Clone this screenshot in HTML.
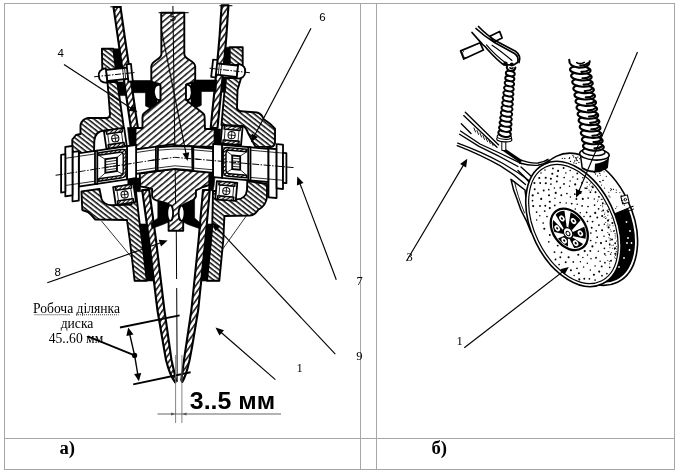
<!DOCTYPE html>
<html lang="uk">
<head>
<meta charset="utf-8">
<title>Дисковий сошник</title>
<style>
html,body{margin:0;padding:0;background:#fff;}
body{width:678px;height:473px;overflow:hidden;position:relative;font-family:"Liberation Serif",serif;}
svg{position:absolute;left:0;top:0;display:block;}
.h1{fill:url(#hA);stroke:#000;stroke-width:1.9;stroke-linejoin:round;}
.h2{fill:url(#hB);stroke:#000;stroke-width:1.9;stroke-linejoin:round;}
.h3{fill:url(#hC);stroke:#000;stroke-width:2.1;stroke-linejoin:round;}
.h4{fill:url(#hD);stroke:#000;stroke-width:1.4;stroke-linejoin:round;}
.w{fill:#fff;stroke:#000;stroke-width:1.8;stroke-linejoin:round;}
.k{fill:#000;stroke:#000;stroke-width:0.6;stroke-linejoin:round;}
.l{fill:none;stroke:#000;stroke-width:1;stroke-linecap:round;stroke-linejoin:round;}
.t{fill:none;stroke:#000;stroke-width:0.8;}
.lab{font-family:"Liberation Sans",sans-serif;font-size:11.5px;fill:#000;}
.labs{font-family:"Liberation Serif",serif;font-size:12.5px;fill:#000;}
</style>
</head>
<body>
<svg width="678" height="473" viewBox="0 0 678 473">
<defs>
<pattern id="hA" patternUnits="userSpaceOnUse" width="8" height="4.6" patternTransform="rotate(-40)">
<rect width="8" height="4.6" fill="#fff"/><rect x="0" y="1" width="8" height="1.4" fill="#000"/></pattern>
<pattern id="hB" patternUnits="userSpaceOnUse" width="8" height="3.8" patternTransform="rotate(38)">
<rect width="8" height="3.8" fill="#fff"/><rect x="0" y="1" width="8" height="1.45" fill="#000"/></pattern>
<pattern id="hC" patternUnits="userSpaceOnUse" width="8" height="4.3" patternTransform="rotate(-55)">
<rect width="8" height="4.3" fill="#fff"/><rect x="0" y="1" width="8" height="1.4" fill="#000"/></pattern>
<pattern id="hD" patternUnits="userSpaceOnUse" width="8" height="2.9" patternTransform="rotate(-40)">
<rect width="8" height="2.9" fill="#fff"/><rect x="0" y="0.7" width="8" height="1.15" fill="#000"/></pattern>
<filter id="soft" x="0" y="0" width="678" height="473" filterUnits="userSpaceOnUse"><feGaussianBlur stdDeviation="0.45"/></filter>
</defs>
<rect x="0" y="0" width="678" height="473" fill="#fff"/>

<g stroke="#a6a6a6" stroke-width="1" fill="none" shape-rendering="crispEdges">
<rect x="4.5" y="3.5" width="670" height="466"/>
<line x1="4.5" y1="438.5" x2="674.5" y2="438.5"/>
<line x1="360.5" y1="3.5" x2="360.5" y2="469.5"/>
<line x1="376.5" y1="3.5" x2="376.5" y2="469.5"/>
</g>
<g filter="url(#soft)">
<g id="left-section">
<path class="t" d="M101.5,221 L133,259 M246.4,215.8 L221,251.4" stroke-width="0.9"/>
<path class="h2" d="M107.5,82 L117.3,82 L124.2,130.5 L104.5,130.5 Q95,131 94.3,141 L94,152 L72.3,154 L72.3,139.5 L76,135 L80.5,134 L80.5,125 Q82,119 88,118 L107,118 Q110,117.5 110,114.5 Z" />
<path class="h2" d="M225.7,78 L241.1,78 L237.5,90 L237,108 Q237.5,111 241,111.2 L257,112.5 Q262,114 263.5,119 L270,123.8 L275,128.7 L275,143 Q274,146.8 271,147 L255.4,146.6 L248,133 Q246,127 243,126 L221.5,125 L222.6,112 Z" />
<path class="h2" d="M81.5,191.4 L99.5,189 L101.5,199 Q103.5,205 112,205.2 L131.5,204.6 L131.5,192 L136,192 L139.7,224 L142,240 L146.8,280.7 L134.6,280.7 L129.8,240 L127,220 L95.3,219.5 L91.3,215 L88,212 L82.3,210 Z" />
<path class="h2" d="M267,184 L267,197 Q266,206 258,210 Q255,215 250,215.5 L224.4,216 L223.3,240 L219.3,280.7 L207,280.7 L211.1,240 L212.3,224 L213,191 L216.3,191 L216.3,199.5 L236.6,199.5 Q246,199 247,190 L247.3,181 Z" />
<path class="h2" d="M101.9,48.8 L113.3,48.8 L116,70 L102.3,70 Z" />
<path class="k" d="M113.3,48.8 L120.3,48.8 L123.2,70 L116,70 Z" />
<path class="k" d="M117.3,82 L123.9,82 L125.8,95.6 L119.2,95.6 Z" />
<path class="h2" d="M229.7,47.2 L242.7,47.2 L242.7,65 L229.7,65 Z" />
<path class="k" d="M224.7,47.2 L229.7,47.2 L229.7,65 L222.8,65 Z" />
<path class="k" d="M221.3,77 L226.5,77 L225.5,92.3 L219.8,92.3 Z" />
<path class="k" d="M139.7,224 L147,224 L149.3,240 L153.9,280.7 L146.8,280.7 L142,240 Z" />
<path class="k" d="M206.4,224 L212.3,224 L211.1,240 L207,280.7 L200.4,280.7 L204.6,240 Z" />
<line x1="134.6" y1="280.7" x2="153.9" y2="280.7" class="l" stroke-width="1.3"/>
<line x1="200.4" y1="280.7" x2="219.3" y2="280.7" class="l" stroke-width="1.3"/>
<path class="h3" d="M113.5,7.0 L115.7,22.4 L117.9,37.8 L120.1,53.1 L122.3,68.5 L124.5,83.9 L126.7,99.2 L128.9,114.6 L131.2,130.0 L138.2,130.0 L135.9,114.6 L133.7,99.2 L131.5,83.9 L129.3,68.5 L127.1,53.1 L124.9,37.8 L122.7,22.4 L120.5,7.0 Z" />
<path class="h3" d="M221.7,5.2 L220.6,20.6 L219.6,35.9 L218.3,51.2 L216.8,66.6 L215.3,82.0 L213.8,97.3 L212.2,112.7 L210.7,128.0 L217.5,128.0 L219.0,112.7 L220.6,97.3 L222.1,82.0 L223.6,66.6 L225.1,51.2 L226.4,35.9 L227.4,20.6 L228.5,5.2 Z" />
<path class="h3" d="M142.2,190 L149.0,240 L157.4,310 L163.4,345 L166,360 Q170,376 175.3,382.5 L176,380 L171.5,360 L164.4,310 L156.0,240 L149.2,190 Z" />
<path class="h3" d="M209.8,190 L205.4,240 L198.2,310 L192.4,345 L189.6,360 Q186,376 182.3,382 L181.3,380 L184,360 L191.4,310 L198.6,240 L203.0,190 Z" />
<path class="l" d="M110.7,6.8 H121.4 M219.9,5.7 H232" stroke-width="1.2"/>
<path class="k" d="M130.5,80.5 L157,80.5 L157,104 L151,108.5 L145.5,106 L145.5,92.7 L132.5,92.7 Z" />
<path class="k" d="M217,80 L191,80 L191,104 L196,108 L201.3,105.3 L201.3,91.5 L216,91.5 Z" />
<path class="k" d="M157.8,199.5 L160,201.5 L168.6,204 L168.6,222 L163,224.5 L152,228.5 L150.8,223.5 L157.8,218 Z" />
<path class="k" d="M194.6,199.5 L190,201.5 L183.2,204.8 L183.2,222 L188,224.5 L200.5,229 L201.3,224 L194.6,218 Z" />
<path class="k" d="M127.5,127.5 L135.3,127.5 L135.5,149.5 L130,150 Z" />
<path class="k" d="M214.6,129 L220.6,129 L220.4,147 L214.6,147 Z" />
<path class="k" d="M127.8,179.6 L137.5,178 L140,178 L140.5,190.5 L143.5,191.5 L132,192 L131.5,186 L127.8,185 Z" />
<path class="k" d="M209.7,172 L215.5,172.5 L214,186 L213,191 L208.5,190 Z" />
<path class="h1" d="M161.2,12.7 L161.4,54 C161.4,60 151.5,60 151.3,66.5 L151.3,79.5 Q151.5,82 154,82.6 L158.5,83.6 Q160.4,84.2 160.4,86.5 L160.4,98.5 Q160.4,100.4 158.5,102 L144,113.3 Q142.5,114.5 142.5,117 L142.5,128 L135.5,128 L135.5,149.2 L174.7,146 L214.6,147 L214.6,129 L205,129 L204.6,117 Q204.6,114.5 203,113.3 L188,101.5 Q186,100 186,98 L186,86.5 Q186,84.2 188,83.6 L192.5,82.6 Q195.2,82 195.2,79.5 L195.2,66.5 C195,60 184.3,60 184.3,54 L184.3,12.7 Z" />
<line x1="159" y1="12.7" x2="188.3" y2="12.7" class="l" stroke-width="1.3"/>
<path class="h1" d="M139.8,173.5 L174.7,168.8 L209.5,172 L209.2,185 L203,187 L196,190.3 L195.9,196.5 Q194,200.5 190,201.5 L183.2,204.8 L183.2,230.8 L168.6,230.8 L168.6,204 L160,201.5 Q152.3,200 152.1,196 L152.1,189 L146,187.5 L140.1,186.4 Z" />
<path class="w" d="M160.4,84.6 Q156,84.2 154.6,88 Q153,93 155.6,98 Q157.5,100.6 160.4,100.2 Z" />
<path class="w" d="M186,84.6 Q190,84.2 191.2,88 Q192.6,93 190.6,98 Q189,100.6 186,100.2 Z" />
<ellipse class="w" cx="170.2" cy="213" rx="2.9" ry="7.8" stroke-width="1.3"/>
<ellipse class="w" cx="181.6" cy="213.3" rx="2.9" ry="7.6" stroke-width="1.3"/>
<g transform="translate(174.6,155.89999999999998) skewY(-8.33)">
<rect class="w" x="-38.5" y="-12.0" width="38.5" height="24.2" />
<path class="t" d="M0,-9 H-38.5 M0,9.2 H-38.5" stroke-width="0.8"/>
<rect class="w" x="-18.7" y="-12.0" width="4.0" height="24.2" />
<rect class="w" x="-47.6" y="-16.6" width="9.1" height="33.2" />
<rect class="w" x="-95.8" y="-16.6" width="48.2" height="33.2" />
<path class="t" d="M-47.6,-13.6 H-95.8 M-47.6,13.6 H-95.8" stroke-width="0.8"/>
<rect class="w" x="-79.6" y="-16.6" width="2.3" height="33.2" />
<path class="h4" d="M-75.8,-14.3 L-53.6,-14.3 Q-48.6,-14.3 -48.6,-9.3 L-48.6,9.3 Q-48.6,14.3 -53.6,14.3 L-75.8,14.3 L-75.8,11.7 L-54.6,11.7 Q-51.4,11.7 -51.4,8.5 L-51.4,-8.5 Q-51.4,-11.7 -54.6,-11.7 L-75.8,-11.7 Z"/>
<rect class="w" x="-69.3" y="-6.8" width="11.7" height="13.6" stroke-width="1.5"/>
<path class="t" d="M-57.6,-4 H-69.3 M-57.6,-1.3 H-69.3 M-57.6,1.4 H-69.3 M-57.6,4.1 H-69.3" stroke-width="1.1"/>
<path class="t" d="M-69.3,-6.8 L-75.8,-11.7 M-69.3,6.8 L-75.8,11.7 M-57.6,-6.8 L-52.2,-10.5 M-57.6,6.8 L-52.2,10.5" stroke-width="1.2"/>
<rect class="w" x="-102.1" y="-18.8" width="6.3" height="49.4" />
<rect class="w" x="-109.3" y="-25.0" width="7.2" height="49.4" />
<rect class="w" x="-113.5" y="-17.7" width="4.2" height="37.7" />
<path class="t" d="M-95.8,-13.6 H-109.3 M-95.8,13.6 H-109.3" stroke-width="0.8"/>
<path d="M-20,1.0 L-119,2.0" stroke="#000" stroke-width="0.95" stroke-dasharray="7 1.5 1.5 1.5" fill="none"/>
</g>
<g transform="translate(174.6,157.2) skewY(5.0)">
<rect class="w" x="0.0" y="-12.0" width="38.5" height="24.2" />
<path class="t" d="M0,-9 H38.5 M0,9.2 H38.5" stroke-width="0.8"/>
<rect class="w" x="14.7" y="-12.0" width="4.0" height="24.2" />
<rect class="w" x="38.5" y="-16.6" width="9.1" height="33.2" />
<rect class="w" x="47.6" y="-16.6" width="46.3" height="33.2" />
<path class="t" d="M47.6,-13.6 H93.9 M47.6,13.6 H93.9" stroke-width="0.8"/>
<rect class="w" x="73.6" y="-16.6" width="2.3" height="33.2" />
<path class="h4" d="M72.1,-14.3 L53.6,-14.3 Q48.6,-14.3 48.6,-9.3 L48.6,9.3 Q48.6,14.3 53.6,14.3 L72.1,14.3 L72.1,11.7 L54.6,11.7 Q51.4,11.7 51.4,8.5 L51.4,-8.5 Q51.4,-11.7 54.6,-11.7 L72.1,-11.7 Z"/>
<rect class="w" x="57.6" y="-6.8" width="8.0" height="13.6" stroke-width="1.5"/>
<path class="t" d="M57.6,-4 H65.6 M57.6,-1.3 H65.6 M57.6,1.4 H65.6 M57.6,4.1 H65.6" stroke-width="1.1"/>
<path class="t" d="M65.6,-6.8 L72.1,-11.7 M65.6,6.8 L72.1,11.7 M57.6,-6.8 L52.2,-10.5 M57.6,6.8 L52.2,10.5" stroke-width="1.2"/>
<rect class="w" x="93.9" y="-17.0" width="8.1" height="48.9" />
<rect class="w" x="102.0" y="-22.0" width="6.4" height="44.3" />
<rect class="w" x="108.4" y="-13.9" width="3.4" height="30.1" />
<path class="t" d="M93.9,-13.6 H108.4 M93.9,13.6 H108.4" stroke-width="0.8"/>
<path d="M20,0.0 L119,0.0" stroke="#000" stroke-width="0.95" stroke-dasharray="7 1.5 1.5 1.5" fill="none"/>
</g>
<path class="w" d="M158,147.3 L174.7,146 L192,146.4 L192.5,170.3 L174.9,168.8 L157.6,171 Z" />
<path class="t" d="M158,150.2 L174.7,149 L192,149.4 M157.6,168 L174.9,165.8 L192.5,167.3" stroke-width="0.8"/>
<path d="M150,160.6 L174.7,157.3 L200,159.5" stroke="#000" stroke-width="0.95" stroke-dasharray="7 1.5 1.5 1.5" fill="none"/>
<g transform="translate(115.3,138.3) rotate(-8.3)">
<rect class="w" x="-10.25" y="-9.0" width="20.5" height="18.0" stroke-width="1.3"/>
<rect class="h4" x="-8.05" y="-9.0" width="16.1" height="3.6"/>
<rect class="h4" x="-8.05" y="5.4" width="16.1" height="3.6"/>
<rect class="t" x="-6.95" y="-5.4" width="13.9" height="10.8" stroke-width="0.9"/>
<circle cx="0" cy="0" r="3.6" fill="#fff" stroke="#000" stroke-width="1"/>
<path class="t" d="M-3.6,0 H3.6 M0,-3.6 V3.6" stroke-width="0.7"/>
</g>
<g transform="translate(124.6,194.5) rotate(-8.3)">
<rect class="w" x="-10.25" y="-9.0" width="20.5" height="18.0" stroke-width="1.3"/>
<rect class="h4" x="-8.05" y="-9.0" width="16.1" height="3.6"/>
<rect class="h4" x="-8.05" y="5.4" width="16.1" height="3.6"/>
<rect class="t" x="-6.95" y="-5.4" width="13.9" height="10.8" stroke-width="0.9"/>
<circle cx="0" cy="0" r="3.6" fill="#fff" stroke="#000" stroke-width="1"/>
<path class="t" d="M-3.6,0 H3.6 M0,-3.6 V3.6" stroke-width="0.7"/>
</g>
<g transform="translate(231.6,135.2) rotate(5.0)">
<rect class="w" x="-10.25" y="-9.0" width="20.5" height="18.0" stroke-width="1.3"/>
<rect class="h4" x="-8.05" y="-9.0" width="16.1" height="3.6"/>
<rect class="h4" x="-8.05" y="5.4" width="16.1" height="3.6"/>
<rect class="t" x="-6.95" y="-5.4" width="13.9" height="10.8" stroke-width="0.9"/>
<circle cx="0" cy="0" r="3.6" fill="#fff" stroke="#000" stroke-width="1"/>
<path class="t" d="M-3.6,0 H3.6 M0,-3.6 V3.6" stroke-width="0.7"/>
</g>
<g transform="translate(226.3,191.0) rotate(5.0)">
<rect class="w" x="-10.25" y="-9.0" width="20.5" height="18.0" stroke-width="1.3"/>
<rect class="h4" x="-8.05" y="-9.0" width="16.1" height="3.6"/>
<rect class="h4" x="-8.05" y="5.4" width="16.1" height="3.6"/>
<rect class="t" x="-6.95" y="-5.4" width="13.9" height="10.8" stroke-width="0.9"/>
<circle cx="0" cy="0" r="3.6" fill="#fff" stroke="#000" stroke-width="1"/>
<path class="t" d="M-3.6,0 H3.6 M0,-3.6 V3.6" stroke-width="0.7"/>
</g>
<g transform="translate(115,74.6) rotate(-6) scale(1,1)">
<rect class="w" x="-8.5" y="-5.6" width="23" height="11.2"/>
<path class="w" d="M-8.5,-7.4 Q-16.5,-6.5 -16.3,0 Q-16.5,6.5 -8.5,7.4 Z"/>
<rect class="w" x="12.6" y="-9" width="4.4" height="17.5"/>
<path class="t" d="M8.2,-5.6 V5.6 M10.2,-5.6 V5.6" stroke-width="0.9"/>
<path d="M-21,0 H21" stroke="#000" stroke-width="0.95" stroke-dasharray="6 1.5 1.5 1.5" fill="none"/>
</g>
<g transform="translate(229,70.4) rotate(6.4) scale(-1,1)">
<rect class="w" x="-8.5" y="-5.6" width="23" height="11.2"/>
<path class="w" d="M-8.5,-7.4 Q-16.5,-6.5 -16.3,0 Q-16.5,6.5 -8.5,7.4 Z"/>
<rect class="w" x="12.6" y="-9" width="4.4" height="17.5"/>
<path class="t" d="M8.2,-5.6 V5.6 M10.2,-5.6 V5.6" stroke-width="0.9"/>
<path d="M-21,0 H21" stroke="#000" stroke-width="0.95" stroke-dasharray="6 1.5 1.5 1.5" fill="none"/>
</g>
<path d="M172.9,6 L174.8,146 M175.2,169 L175.6,204 M176.3,231 L176.6,279 M176.7,288 L177.2,382" stroke="#000" stroke-width="1.0" fill="none"/>
</g>
<g id="right-view" stroke-linecap="round" stroke-linejoin="round">
<g fill="none" stroke="#000" stroke-width="1.35">
<path d="M465.3,112.3 L498.7,144.9 M463.7,115.6 L497,147.3"/>
<path d="M461.3,123.7 L471,133.5"/>
<path d="M460.5,131 L480,144 Q500,153 521.5,163.6"/>
<path d="M459.6,134.3 L479,146.4 Q499,155.8 518,166.5"/>
<path d="M457.7,143.2 Q482,152 503,163.5 Q518,172 529.6,181"/>
<path d="M457.2,145.6 Q480,154.4 500,165.7 Q514,174 525.5,184.5"/>
<path d="M521,167 Q528,173 534,179 M518,170.5 Q524,176 529,182"/>
<path d="M474,128 l1.5,4 M477,130.5 l1.5,4 M480,133 l1.5,4 M483,135.5 l1.5,4 M486,138 l1.5,3.6 M489,140.5 l1.3,3 M492,143 l1,2.5" stroke-width="0.9"/>
</g>
<path d="M501.5,150 L519.5,162.5 L523,160.8 L505,148.5 Z" fill="#000"/>
<path d="M519.5,163 Q530,166 538,165.2 Q545,164 549.5,160.3 M521,160.2 Q531,163.6 538,163 Q544,162 548,159.3" fill="none" stroke="#000" stroke-width="1.4"/>
<path d="M511,179.3 Q513,190 517,199 Q520,210 526.5,221 L531,232 L527,206 L525,190 Z" fill="#fff" stroke="#000" stroke-width="1.5"/>
<path d="M514.5,181.5 Q517.5,196 524.5,213" fill="none" stroke="#000" stroke-width="0.9"/>
<defs><clipPath id="rimclip"><polygon points="613,214.5 633,206.2 660,206 660,300 575,300 575,283 596,272"/></clipPath>
<clipPath id="bandclip"><polygon points="540,140 660,140 660,209 633,206.2 613,214.5 600,200 560,165 540,170"/></clipPath></defs>
<ellipse cx="586.8" cy="219.3" rx="45.0" ry="70.0" transform="rotate(-26.0 586.8 219.3)" class="" fill="#fff" stroke="#000" stroke-width="1.6"/>
<g clip-path="url(#rimclip)">
<ellipse cx="586.8" cy="219.3" rx="42.4" ry="67.4" transform="rotate(-26.0 586.8 219.3)" class="" fill="#000"/>
</g>
<circle cx="626.5" cy="222" r="0.9" fill="#fff"/>
<circle cx="630" cy="231" r="0.9" fill="#fff"/>
<circle cx="627" cy="243" r="0.9" fill="#fff"/>
<circle cx="629.5" cy="250" r="0.9" fill="#fff"/>
<circle cx="624" cy="258" r="0.9" fill="#fff"/>
<circle cx="619" cy="267" r="0.9" fill="#fff"/>
<circle cx="628" cy="238" r="0.9" fill="#fff"/>
<circle cx="631.5" cy="243" r="0.9" fill="#fff"/>
<path d="M613,214.5 L633,206.2" stroke="#000" stroke-width="1.2" fill="none"/>
<path d="M611.5,218 L633.5,209" stroke="#000" stroke-width="1" fill="none"/>
<rect x="621.6" y="195.6" width="6.6" height="7.6" fill="#fff" stroke="#000" stroke-width="1.1" transform="rotate(-14 625 199)"/>
<circle cx="625.3" cy="199.6" r="1.3" fill="none" stroke="#000" stroke-width="0.8"/>
<g fill="#000" clip-path="url(#bandclip)">
<circle cx="575.8" cy="157.7" r="0.65"/>
<circle cx="595.9" cy="171.4" r="0.65"/>
<circle cx="599.8" cy="173.4" r="0.65"/>
<circle cx="588.1" cy="167.2" r="0.65"/>
<circle cx="599.6" cy="181.6" r="0.65"/>
<circle cx="601.5" cy="185.1" r="0.55"/>
<circle cx="611.6" cy="189.4" r="0.55"/>
<circle cx="564.8" cy="158.4" r="0.65"/>
<circle cx="579.8" cy="158.7" r="0.65"/>
<circle cx="621.6" cy="200.4" r="0.55"/>
<circle cx="586.8" cy="159.7" r="0.65"/>
<circle cx="603.2" cy="180.4" r="0.55"/>
<circle cx="577.2" cy="160.5" r="0.65"/>
<circle cx="569.6" cy="157.6" r="0.65"/>
<circle cx="569.3" cy="158.4" r="0.65"/>
<circle cx="573.9" cy="162.9" r="0.65"/>
<circle cx="600.6" cy="181.9" r="0.55"/>
<circle cx="616.3" cy="190.1" r="0.55"/>
<circle cx="624.4" cy="205.1" r="0.55"/>
<circle cx="624.3" cy="199.5" r="0.55"/>
<circle cx="604.6" cy="188.1" r="0.55"/>
<circle cx="610.0" cy="197.1" r="0.55"/>
<circle cx="608.8" cy="192.3" r="0.55"/>
<circle cx="570.5" cy="161.4" r="0.65"/>
<circle cx="573.7" cy="157.0" r="0.65"/>
<circle cx="582.5" cy="158.7" r="0.65"/>
<circle cx="594.8" cy="172.1" r="0.65"/>
<circle cx="623.4" cy="202.7" r="0.55"/>
<circle cx="613.6" cy="189.4" r="0.55"/>
<circle cx="581.9" cy="162.3" r="0.65"/>
<circle cx="584.9" cy="164.5" r="0.65"/>
<circle cx="582.4" cy="161.6" r="0.65"/>
<circle cx="576.3" cy="159.9" r="0.65"/>
<circle cx="576.5" cy="158.8" r="0.65"/>
<circle cx="616.8" cy="206.7" r="0.55"/>
<circle cx="581.7" cy="164.1" r="0.65"/>
<circle cx="621.2" cy="195.3" r="0.55"/>
<circle cx="597.5" cy="168.8" r="0.65"/>
<circle cx="587.5" cy="163.0" r="0.65"/>
<circle cx="609.0" cy="195.9" r="0.55"/>
<circle cx="598.9" cy="171.9" r="0.65"/>
<circle cx="599.9" cy="168.9" r="0.65"/>
<circle cx="572.9" cy="155.6" r="0.65"/>
<circle cx="587.7" cy="164.6" r="0.65"/>
<circle cx="574.7" cy="161.0" r="0.65"/>
<circle cx="583.9" cy="166.1" r="0.65"/>
<circle cx="604.1" cy="171.7" r="0.55"/>
<circle cx="594.2" cy="172.5" r="0.65"/>
<circle cx="600.3" cy="175.2" r="0.55"/>
<circle cx="591.5" cy="163.1" r="0.65"/>
<circle cx="562.3" cy="158.3" r="0.65"/>
<circle cx="599.8" cy="171.1" r="0.65"/>
<circle cx="578.9" cy="162.4" r="0.65"/>
<circle cx="606.3" cy="176.4" r="0.55"/>
<circle cx="595.5" cy="174.0" r="0.65"/>
<circle cx="602.8" cy="180.4" r="0.55"/>
<circle cx="588.0" cy="162.5" r="0.65"/>
<circle cx="616.2" cy="192.5" r="0.55"/>
<circle cx="597.6" cy="175.9" r="0.65"/>
<circle cx="615.7" cy="208.5" r="0.55"/>
<circle cx="576.2" cy="163.3" r="0.65"/>
<circle cx="610.8" cy="190.6" r="0.55"/>
<circle cx="599.2" cy="167.7" r="0.65"/>
<circle cx="577.8" cy="157.1" r="0.65"/>
<circle cx="610.8" cy="188.6" r="0.55"/>
<circle cx="601.1" cy="171.3" r="0.55"/>
<circle cx="622.7" cy="200.5" r="0.55"/>
<circle cx="592.0" cy="170.2" r="0.65"/>
<circle cx="619.9" cy="192.6" r="0.55"/>
<circle cx="576.0" cy="157.9" r="0.65"/>
</g>
<ellipse cx="573.4" cy="224.0" rx="41.9" ry="66.5" transform="rotate(-26.0 573.4 224.0)" class="" fill="#fff" stroke="#000" stroke-width="1.6"/>
<ellipse cx="573.4" cy="224.0" rx="39.0" ry="63.4" transform="rotate(-26.0 573.4 224.0)" class="" fill="none" stroke="#000" stroke-width="1.2"/>
<g fill="#000">
<circle cx="609.7" cy="244.7" r="0.85"/>
<circle cx="548.8" cy="189.6" r="0.85"/>
<circle cx="574.8" cy="194.2" r="0.85"/>
<circle cx="597.2" cy="237.2" r="0.85"/>
<circle cx="604.7" cy="253.9" r="0.85"/>
<circle cx="545.8" cy="183.2" r="1.05"/>
<circle cx="586.6" cy="212.4" r="0.85"/>
<circle cx="569.5" cy="186.2" r="0.75"/>
<circle cx="594.6" cy="205.1" r="0.85"/>
<circle cx="570.1" cy="181.1" r="0.75"/>
<circle cx="606.2" cy="241.2" r="0.85"/>
<circle cx="601.0" cy="243.1" r="1.05"/>
<circle cx="549.8" cy="208.1" r="1.05"/>
<circle cx="592.6" cy="221.6" r="0.95"/>
<circle cx="577.2" cy="204.2" r="0.75"/>
<circle cx="588.2" cy="198.0" r="0.85"/>
<circle cx="613.8" cy="231.0" r="0.85"/>
<circle cx="608.0" cy="220.6" r="1.05"/>
<circle cx="608.1" cy="211.7" r="0.95"/>
<circle cx="543.2" cy="223.0" r="0.85"/>
<circle cx="555.0" cy="198.3" r="0.75"/>
<circle cx="592.8" cy="187.2" r="1.05"/>
<circle cx="587.0" cy="182.3" r="0.75"/>
<circle cx="565.8" cy="172.9" r="0.75"/>
<circle cx="580.5" cy="193.0" r="1.05"/>
<circle cx="602.1" cy="230.2" r="1.05"/>
<circle cx="595.1" cy="265.9" r="0.75"/>
<circle cx="606.9" cy="273.6" r="0.85"/>
<circle cx="558.1" cy="170.9" r="1.05"/>
<circle cx="600.1" cy="261.3" r="0.75"/>
<circle cx="582.1" cy="205.9" r="0.85"/>
<circle cx="570.2" cy="170.5" r="0.75"/>
<circle cx="595.8" cy="242.8" r="0.75"/>
<circle cx="532.5" cy="200.7" r="0.85"/>
<circle cx="555.7" cy="192.9" r="1.05"/>
<circle cx="560.1" cy="202.5" r="0.85"/>
<circle cx="596.2" cy="230.8" r="0.85"/>
<circle cx="556.8" cy="181.5" r="0.95"/>
<circle cx="566.9" cy="193.5" r="0.85"/>
<circle cx="608.6" cy="227.4" r="1.05"/>
<circle cx="576.3" cy="189.5" r="0.75"/>
<circle cx="552.3" cy="173.8" r="1.05"/>
<circle cx="541.0" cy="173.1" r="0.75"/>
<circle cx="582.9" cy="257.5" r="0.75"/>
<circle cx="564.2" cy="177.5" r="0.85"/>
<circle cx="602.8" cy="203.3" r="0.95"/>
<circle cx="612.0" cy="239.5" r="0.95"/>
<circle cx="587.3" cy="263.2" r="0.75"/>
<circle cx="577.5" cy="179.0" r="0.85"/>
<circle cx="599.0" cy="196.8" r="0.85"/>
<circle cx="575.3" cy="209.0" r="0.75"/>
<circle cx="595.2" cy="212.9" r="1.05"/>
<circle cx="541.2" cy="198.9" r="1.05"/>
<circle cx="609.7" cy="267.3" r="0.85"/>
<circle cx="589.4" cy="278.8" r="0.85"/>
<circle cx="615.0" cy="248.3" r="1.05"/>
<circle cx="592.4" cy="246.4" r="1.05"/>
<circle cx="540.0" cy="205.9" r="0.95"/>
<circle cx="560.3" cy="187.7" r="0.85"/>
<circle cx="610.6" cy="254.2" r="0.75"/>
<circle cx="552.9" cy="168.4" r="0.85"/>
<circle cx="593.9" cy="274.8" r="1.05"/>
<circle cx="598.3" cy="251.2" r="0.75"/>
<circle cx="586.0" cy="188.3" r="0.95"/>
<circle cx="601.7" cy="266.4" r="0.95"/>
<circle cx="545.7" cy="177.7" r="1.05"/>
<circle cx="611.0" cy="260.7" r="0.95"/>
<circle cx="547.0" cy="216.5" r="0.85"/>
<circle cx="609.2" cy="234.4" r="0.75"/>
<circle cx="582.8" cy="177.8" r="0.75"/>
<circle cx="588.0" cy="206.5" r="0.85"/>
<circle cx="598.9" cy="225.1" r="0.95"/>
<circle cx="582.8" cy="198.9" r="1.05"/>
<circle cx="544.7" cy="211.1" r="0.95"/>
<circle cx="596.0" cy="257.7" r="0.95"/>
<circle cx="590.3" cy="270.1" r="0.75"/>
<circle cx="604.4" cy="248.3" r="0.85"/>
<circle cx="549.8" cy="201.7" r="1.05"/>
<circle cx="587.5" cy="255.1" r="0.75"/>
<circle cx="545.0" cy="169.9" r="0.75"/>
<circle cx="536.6" cy="212.1" r="0.85"/>
<circle cx="590.3" cy="250.9" r="0.95"/>
<circle cx="604.0" cy="236.2" r="0.75"/>
<circle cx="590.4" cy="192.2" r="0.85"/>
<circle cx="554.8" cy="205.4" r="0.85"/>
<circle cx="602.0" cy="275.7" r="0.85"/>
<circle cx="595.5" cy="192.3" r="0.95"/>
<circle cx="559.1" cy="264.5" r="0.85"/>
<circle cx="577.3" cy="173.4" r="0.95"/>
<circle cx="566.2" cy="203.1" r="0.75"/>
<circle cx="594.3" cy="198.9" r="0.75"/>
<circle cx="597.3" cy="217.5" r="0.95"/>
<circle cx="557.7" cy="245.6" r="0.95"/>
<circle cx="603.2" cy="210.4" r="0.95"/>
<circle cx="604.9" cy="262.7" r="0.85"/>
<circle cx="602.2" cy="216.0" r="1.05"/>
<circle cx="591.7" cy="227.8" r="0.95"/>
<circle cx="615.6" cy="253.9" r="0.95"/>
<circle cx="580.4" cy="261.8" r="0.75"/>
<circle cx="549.0" cy="195.3" r="1.05"/>
<circle cx="554.4" cy="188.1" r="0.75"/>
<circle cx="540.2" cy="183.0" r="0.95"/>
<circle cx="578.9" cy="273.2" r="1.05"/>
<circle cx="532.7" cy="195.4" r="1.05"/>
<circle cx="578.3" cy="254.8" r="1.05"/>
<circle cx="582.1" cy="182.8" r="0.95"/>
<circle cx="580.3" cy="212.8" r="0.75"/>
<circle cx="575.2" cy="184.4" r="1.05"/>
<circle cx="590.8" cy="233.0" r="0.85"/>
<circle cx="534.4" cy="183.0" r="1.05"/>
<circle cx="577.0" cy="268.3" r="0.85"/>
<circle cx="534.7" cy="189.3" r="0.95"/>
<circle cx="543.7" cy="190.5" r="0.95"/>
<circle cx="573.3" cy="261.9" r="0.85"/>
<circle cx="583.6" cy="267.0" r="0.75"/>
<circle cx="544.3" cy="228.7" r="1.05"/>
<circle cx="590.3" cy="216.4" r="0.95"/>
<circle cx="563.6" cy="168.0" r="0.95"/>
<circle cx="557.3" cy="176.3" r="1.05"/>
<circle cx="598.6" cy="208.8" r="0.85"/>
<circle cx="572.9" cy="177.0" r="0.75"/>
<circle cx="570.4" cy="197.1" r="0.75"/>
<circle cx="579.3" cy="279.4" r="1.05"/>
<circle cx="545.3" cy="205.8" r="0.95"/>
<circle cx="538.0" cy="193.2" r="0.85"/>
<circle cx="576.4" cy="199.0" r="0.95"/>
<circle cx="539.8" cy="215.8" r="0.75"/>
<circle cx="590.7" cy="240.5" r="0.85"/>
<circle cx="561.3" cy="195.2" r="0.95"/>
<circle cx="561.5" cy="252.4" r="0.85"/>
<circle cx="571.7" cy="203.6" r="0.95"/>
<circle cx="584.0" cy="216.5" r="0.75"/>
<circle cx="533.2" cy="206.1" r="1.05"/>
<circle cx="604.3" cy="224.3" r="0.75"/>
<circle cx="550.9" cy="184.1" r="0.85"/>
<circle cx="539.3" cy="178.0" r="1.05"/>
<circle cx="587.5" cy="221.3" r="0.85"/>
<circle cx="595.1" cy="280.0" r="0.85"/>
<circle cx="615.2" cy="243.3" r="0.95"/>
<circle cx="574.1" cy="275.5" r="0.75"/>
<circle cx="536.7" cy="219.9" r="0.75"/>
<circle cx="564.5" cy="269.3" r="0.85"/>
<circle cx="591.0" cy="258.8" r="0.75"/>
<circle cx="560.3" cy="257.2" r="0.95"/>
<circle cx="584.3" cy="278.7" r="0.95"/>
<circle cx="564.0" cy="183.9" r="0.95"/>
<circle cx="599.2" cy="271.6" r="1.05"/>
<circle cx="555.5" cy="259.5" r="0.95"/>
<circle cx="584.7" cy="251.1" r="1.05"/>
<circle cx="568.6" cy="257.3" r="1.05"/>
<circle cx="548.8" cy="241.8" r="0.85"/>
<circle cx="565.7" cy="262.3" r="0.95"/>
<circle cx="549.8" cy="235.0" r="0.95"/>
<circle cx="554.5" cy="252.1" r="0.95"/>
<circle cx="550.9" cy="178.7" r="1.05"/>
<circle cx="612.4" cy="223.0" r="1.05"/>
<circle cx="570.9" cy="270.2" r="1.05"/>
<circle cx="610.4" cy="229.7" r="0.5"/>
<circle cx="607.8" cy="232.4" r="0.5"/>
<circle cx="604.6" cy="214.6" r="0.5"/>
<circle cx="605.8" cy="255.4" r="0.5"/>
<circle cx="609.6" cy="263.8" r="0.5"/>
<circle cx="587.3" cy="186.7" r="0.5"/>
<circle cx="615.1" cy="235.1" r="0.5"/>
<circle cx="609.1" cy="225.1" r="0.5"/>
<circle cx="589.3" cy="184.8" r="0.5"/>
<circle cx="608.9" cy="219.4" r="0.5"/>
<circle cx="607.9" cy="215.2" r="0.5"/>
<circle cx="612.7" cy="248.3" r="0.5"/>
<circle cx="597.5" cy="201.5" r="0.5"/>
<circle cx="587.1" cy="188.5" r="0.5"/>
<circle cx="584.5" cy="188.0" r="0.5"/>
<circle cx="611.4" cy="252.4" r="0.5"/>
<circle cx="615.6" cy="255.4" r="0.5"/>
<circle cx="613.0" cy="225.8" r="0.5"/>
<circle cx="607.8" cy="260.4" r="0.5"/>
<circle cx="605.1" cy="204.0" r="0.5"/>
<circle cx="601.8" cy="211.3" r="0.5"/>
<circle cx="615.2" cy="238.0" r="0.5"/>
<circle cx="605.1" cy="216.4" r="0.5"/>
<circle cx="602.7" cy="204.9" r="0.5"/>
<circle cx="614.6" cy="249.2" r="0.5"/>
<circle cx="608.9" cy="237.7" r="0.5"/>
<circle cx="591.6" cy="189.9" r="0.5"/>
<circle cx="607.8" cy="223.9" r="0.5"/>
<circle cx="598.8" cy="196.7" r="0.5"/>
<circle cx="607.0" cy="225.7" r="0.5"/>
<circle cx="610.1" cy="240.3" r="0.5"/>
<circle cx="615.0" cy="233.4" r="0.5"/>
<circle cx="615.9" cy="236.2" r="0.5"/>
<circle cx="608.9" cy="251.6" r="0.5"/>
<circle cx="609.3" cy="261.6" r="0.5"/>
<circle cx="609.5" cy="235.4" r="0.5"/>
<circle cx="614.6" cy="253.8" r="0.5"/>
<circle cx="610.2" cy="238.5" r="0.5"/>
<circle cx="608.9" cy="234.1" r="0.5"/>
<circle cx="611.7" cy="218.1" r="0.5"/>
<circle cx="615.3" cy="258.2" r="0.5"/>
<circle cx="609.8" cy="243.2" r="0.5"/>
<circle cx="616.0" cy="252.0" r="0.5"/>
<circle cx="604.0" cy="217.4" r="0.5"/>
<circle cx="601.3" cy="199.3" r="0.5"/>
<circle cx="589.0" cy="190.1" r="0.5"/>
<circle cx="610.1" cy="239.8" r="0.5"/>
<circle cx="608.1" cy="209.6" r="0.5"/>
<circle cx="590.4" cy="182.9" r="0.5"/>
<circle cx="605.7" cy="222.5" r="0.5"/>
<circle cx="605.4" cy="218.6" r="0.5"/>
<circle cx="598.0" cy="200.0" r="0.5"/>
<circle cx="611.2" cy="231.2" r="0.5"/>
<circle cx="608.0" cy="251.6" r="0.5"/>
<circle cx="616.4" cy="246.6" r="0.5"/>
<circle cx="607.2" cy="210.8" r="0.5"/>
<circle cx="616.7" cy="240.9" r="0.5"/>
<circle cx="592.7" cy="186.1" r="0.5"/>
<circle cx="609.9" cy="247.7" r="0.5"/>
<circle cx="616.6" cy="249.1" r="0.5"/>
<circle cx="607.1" cy="210.6" r="0.5"/>
<circle cx="602.7" cy="206.8" r="0.5"/>
<circle cx="610.0" cy="225.1" r="0.5"/>
<circle cx="614.6" cy="256.9" r="0.5"/>
<circle cx="616.4" cy="251.6" r="0.5"/>
<circle cx="600.7" cy="205.6" r="0.5"/>
<circle cx="591.3" cy="186.3" r="0.5"/>
<circle cx="602.7" cy="199.2" r="0.5"/>
<circle cx="606.2" cy="218.0" r="0.5"/>
<circle cx="595.5" cy="191.7" r="0.5"/>
<circle cx="613.4" cy="245.0" r="0.5"/>
<circle cx="601.3" cy="199.2" r="0.5"/>
<circle cx="604.9" cy="212.9" r="0.5"/>
<circle cx="612.0" cy="245.2" r="0.5"/>
<circle cx="614.4" cy="230.5" r="0.5"/>
</g>
<ellipse cx="569.3" cy="229.4" rx="16.2" ry="22.6" transform="rotate(-35.0 569.3 229.4)" class="" fill="#fff" stroke="#000" stroke-width="2.3"/>
<g transform="translate(569.3,229.4) rotate(-35.0) scale(0.717,1)">
<path d="M2.1,4.1 L19.1,6.5 A20.2,20.2 0 0 1 10.9,17.0 L-0.8,7.9 Z" fill="#000"/>
<circle cx="9.5" cy="9.6" r="3.3" fill="#fff"/>
<circle cx="9.5" cy="9.6" r="1.35" fill="#000"/>
<path d="M-2.7,8.6 L4.0,19.8 A20.2,20.2 0 0 1 -9.3,18.0 L-7.4,8.0 Z" fill="#000"/>
<circle cx="-3.7" cy="14.9" r="3.3" fill="#fff"/>
<circle cx="-3.7" cy="14.9" r="1.35" fill="#000"/>
<path d="M-9.0,6.7 L-15.2,13.3 A20.2,20.2 0 0 1 -20.2,1.0 L-10.8,2.3 Z" fill="#000"/>
<circle cx="-14.8" cy="6.2" r="3.3" fill="#fff"/>
<circle cx="-14.8" cy="6.2" r="1.35" fill="#000"/>
<path d="M-10.5,0.3 L-19.1,-6.5 A20.2,20.2 0 0 1 -10.9,-17.0 L-7.6,-3.5 Z" fill="#000"/>
<circle cx="-12.9" cy="-7.9" r="3.3" fill="#fff"/>
<circle cx="-12.9" cy="-7.9" r="1.35" fill="#000"/>
<path d="M-5.7,-4.2 L-4.0,-19.8 A20.2,20.2 0 0 1 9.3,-18.0 L-1.0,-3.6 Z" fill="#000"/>
<circle cx="0.3" cy="-13.2" r="3.3" fill="#fff"/>
<circle cx="0.3" cy="-13.2" r="1.35" fill="#000"/>
<path d="M0.6,-2.3 L15.2,-13.3 A20.2,20.2 0 0 1 20.2,-1.0 L2.4,2.1 Z" fill="#000"/>
<circle cx="11.5" cy="-4.4" r="3.3" fill="#fff"/>
<circle cx="11.5" cy="-4.4" r="1.35" fill="#000"/>
<circle cx="-4.2" cy="2.2" r="5.8" fill="#fff" stroke="#000" stroke-width="1.6"/>
<circle cx="-4.8" cy="2.6" r="2.4" fill="#fff" stroke="#000" stroke-width="1.2"/>
</g>
<path d="M580.6,156 L582.2,168 Q594,175.5 607.2,167.5 L608.6,155 Z" fill="#fff" stroke="#000" stroke-width="1.5"/>
<path d="M594.5,172.3 Q601.5,172 607.2,167.5 L608.3,158.5 Q601.5,163.5 595,163.8 Z" fill="#000"/>
<ellipse cx="594.4" cy="154.4" rx="14.8" ry="5.6" fill="#fff" stroke="#000" stroke-width="1.6" transform="rotate(4 594.4 154.4)"/>
<ellipse cx="593.8" cy="151.6" rx="11.3" ry="4.0" fill="#fff" stroke="#000" stroke-width="1.4" transform="rotate(4 593.8 151.6)"/>
<ellipse cx="593.4" cy="146.5" rx="10.4" ry="4.1" fill="#fff" stroke="#000" stroke-width="2.1" transform="rotate(4.3 593.4 146.5)"/>
<path d="M594.6,148.3 q5.0,-0.1 7.9,-3.1" stroke="#000" stroke-width="2.1" fill="none" transform="rotate(4.3 593.4 146.5)"/>
<ellipse cx="592.3" cy="140.1" rx="10.4" ry="4.1" fill="#fff" stroke="#000" stroke-width="2.1" transform="rotate(4.3 592.3 140.1)"/>
<path d="M593.6,142.0 q5.0,-0.1 7.9,-3.1" stroke="#000" stroke-width="2.1" fill="none" transform="rotate(4.3 592.3 140.1)"/>
<ellipse cx="591.2" cy="133.7" rx="10.4" ry="4.1" fill="#fff" stroke="#000" stroke-width="2.1" transform="rotate(4.3 591.2 133.7)"/>
<path d="M592.5,135.6 q5.0,-0.1 7.9,-3.1" stroke="#000" stroke-width="2.1" fill="none" transform="rotate(4.3 591.2 133.7)"/>
<ellipse cx="590.1" cy="127.4" rx="10.4" ry="4.1" fill="#fff" stroke="#000" stroke-width="2.1" transform="rotate(4.3 590.1 127.4)"/>
<path d="M591.4,129.2 q5.0,-0.1 7.9,-3.1" stroke="#000" stroke-width="2.1" fill="none" transform="rotate(4.3 590.1 127.4)"/>
<ellipse cx="589.0" cy="121.0" rx="10.4" ry="4.1" fill="#fff" stroke="#000" stroke-width="2.1" transform="rotate(4.3 589.0 121.0)"/>
<path d="M590.3,122.8 q5.0,-0.1 7.9,-3.1" stroke="#000" stroke-width="2.1" fill="none" transform="rotate(4.3 589.0 121.0)"/>
<ellipse cx="587.9" cy="114.6" rx="10.3" ry="4.1" fill="#fff" stroke="#000" stroke-width="2.1" transform="rotate(4.3 587.9 114.6)"/>
<path d="M589.2,116.4 q5.0,-0.1 7.9,-3.0" stroke="#000" stroke-width="2.1" fill="none" transform="rotate(4.3 587.9 114.6)"/>
<ellipse cx="586.8" cy="108.2" rx="10.3" ry="4.1" fill="#fff" stroke="#000" stroke-width="2.1" transform="rotate(4.3 586.8 108.2)"/>
<path d="M588.1,110.1 q5.0,-0.1 7.9,-3.0" stroke="#000" stroke-width="2.1" fill="none" transform="rotate(4.3 586.8 108.2)"/>
<ellipse cx="585.8" cy="101.9" rx="10.3" ry="4.0" fill="#fff" stroke="#000" stroke-width="2.1" transform="rotate(4.3 585.8 101.9)"/>
<path d="M587.0,103.7 q5.0,-0.1 7.8,-3.0" stroke="#000" stroke-width="2.1" fill="none" transform="rotate(4.3 585.8 101.9)"/>
<ellipse cx="584.7" cy="95.5" rx="10.3" ry="4.0" fill="#fff" stroke="#000" stroke-width="2.1" transform="rotate(4.3 584.7 95.5)"/>
<path d="M585.9,97.3 q4.9,-0.1 7.8,-3.0" stroke="#000" stroke-width="2.1" fill="none" transform="rotate(4.3 584.7 95.5)"/>
<ellipse cx="583.6" cy="89.1" rx="10.3" ry="4.0" fill="#fff" stroke="#000" stroke-width="2.1" transform="rotate(4.3 583.6 89.1)"/>
<path d="M584.8,90.9 q4.9,-0.1 7.8,-3.0" stroke="#000" stroke-width="2.1" fill="none" transform="rotate(4.3 583.6 89.1)"/>
<ellipse cx="582.5" cy="82.7" rx="10.3" ry="4.0" fill="#fff" stroke="#000" stroke-width="2.1" transform="rotate(4.3 582.5 82.7)"/>
<path d="M583.7,84.5 q4.9,-0.1 7.8,-3.0" stroke="#000" stroke-width="2.1" fill="none" transform="rotate(4.3 582.5 82.7)"/>
<ellipse cx="581.4" cy="76.4" rx="10.3" ry="4.0" fill="#fff" stroke="#000" stroke-width="2.1" transform="rotate(4.3 581.4 76.4)"/>
<path d="M582.6,78.2 q4.9,-0.1 7.8,-3.0" stroke="#000" stroke-width="2.1" fill="none" transform="rotate(4.3 581.4 76.4)"/>
<ellipse cx="580.3" cy="70.0" rx="10.3" ry="4.0" fill="#fff" stroke="#000" stroke-width="2.1" transform="rotate(4.3 580.3 70.0)"/>
<path d="M581.5,71.8 q4.9,-0.1 7.8,-3.0" stroke="#000" stroke-width="2.1" fill="none" transform="rotate(4.3 580.3 70.0)"/>
<path d="M569.0,60.6 Q569.0,67.2 579.2,67.6 Q589.5,67.2 589.5,60.6" fill="#fff" stroke="#000" stroke-width="2.1" transform="rotate(4.3 579.2 63.6)"/>
<path d="M576.7,62.8 q3.7,2.0 7.4,-0.8" fill="none" stroke="#000" stroke-width="1.7" transform="rotate(4.3 579.2 63.6)"/>
<path d="M580.4,65.4 q4.9,-0.1 7.8,-3.0" stroke="#000" stroke-width="2.1" fill="none" transform="rotate(4.3 579.2 63.6)"/>
<rect x="502.2" y="141.5" width="3.6" height="9" fill="#fff" stroke="#000" stroke-width="1"/>
<ellipse cx="504.3" cy="139.2" rx="7.6" ry="2.6" fill="#fff" stroke="#000" stroke-width="1.2" transform="rotate(4 504.3 139.2)"/>
<ellipse cx="504.3" cy="136.9" rx="7.2" ry="2.4" fill="#fff" stroke="#000" stroke-width="1.1" transform="rotate(4 504.3 136.9)"/>
<ellipse cx="504.6" cy="133.5" rx="6.4" ry="3.3" fill="#fff" stroke="#000" stroke-width="2.0" transform="rotate(11.4 504.6 133.5)"/>
<ellipse cx="505.1" cy="128.5" rx="6.2" ry="3.2" fill="#fff" stroke="#000" stroke-width="2.0" transform="rotate(11.4 505.1 128.5)"/>
<ellipse cx="505.6" cy="123.5" rx="6.1" ry="3.2" fill="#fff" stroke="#000" stroke-width="2.0" transform="rotate(11.4 505.6 123.5)"/>
<ellipse cx="506.0" cy="118.5" rx="5.9" ry="3.1" fill="#fff" stroke="#000" stroke-width="2.0" transform="rotate(11.4 506.0 118.5)"/>
<ellipse cx="506.5" cy="113.5" rx="5.8" ry="3.1" fill="#fff" stroke="#000" stroke-width="2.0" transform="rotate(11.4 506.5 113.5)"/>
<ellipse cx="507.0" cy="108.5" rx="5.6" ry="3.0" fill="#fff" stroke="#000" stroke-width="2.0" transform="rotate(11.4 507.0 108.5)"/>
<ellipse cx="507.5" cy="103.5" rx="5.4" ry="2.9" fill="#fff" stroke="#000" stroke-width="2.0" transform="rotate(11.4 507.5 103.5)"/>
<ellipse cx="507.9" cy="98.5" rx="5.3" ry="2.9" fill="#fff" stroke="#000" stroke-width="2.0" transform="rotate(11.4 507.9 98.5)"/>
<ellipse cx="508.4" cy="93.5" rx="5.1" ry="2.8" fill="#fff" stroke="#000" stroke-width="2.0" transform="rotate(11.4 508.4 93.5)"/>
<ellipse cx="508.9" cy="88.5" rx="4.9" ry="2.7" fill="#fff" stroke="#000" stroke-width="2.0" transform="rotate(11.4 508.9 88.5)"/>
<ellipse cx="509.4" cy="83.5" rx="4.8" ry="2.7" fill="#fff" stroke="#000" stroke-width="2.0" transform="rotate(11.4 509.4 83.5)"/>
<ellipse cx="509.8" cy="78.5" rx="4.6" ry="2.6" fill="#fff" stroke="#000" stroke-width="2.0" transform="rotate(11.4 509.8 78.5)"/>
<ellipse cx="510.3" cy="73.5" rx="4.5" ry="2.6" fill="#fff" stroke="#000" stroke-width="2.0" transform="rotate(11.4 510.3 73.5)"/>
<path d="M506.5,66.6 Q506.5,70.8 510.8,71.0 Q515.1,70.8 515.1,66.6" fill="#fff" stroke="#000" stroke-width="2.0" transform="rotate(11.4 510.8 68.5)"/>
<path d="M509.8,68.0 q1.5,1.2 3.1,-0.5" fill="none" stroke="#000" stroke-width="1.6" transform="rotate(11.4 510.8 68.5)"/>
<g fill="#fff" stroke="#000" stroke-width="1.7">
<path d="M489.9,36.3 L499.6,31.4 L502.1,37.9 L493.9,42 Z"/>
<path d="M460.6,50.9 L480.1,42.8 L483.4,50.1 L463.8,59.1 Z"/>
<path d="M463.4,51.2 Q461.8,51.8 462.9,55 Q464,58.4 465.8,58" fill="none" stroke-width="0.9"/>
<path d="M476,28.5 Q484,36 494.5,42.5 L514.5,53.5 Q519.5,57 517.5,62.5 L514,64.8 L503.7,64.8 Q497,60 488.5,50.5 Q485,46 482.5,44.4 L472,32.5"/>
<path d="M478.5,26.5 Q487,35.5 497,41.4 L515.5,51.2 Q521.5,55.5 519,62.5" fill="none"/>
<path d="M492,45.2 Q501,51 512,60.5" fill="none" stroke-width="1.1"/>
<path d="M486.5,44.8 Q495,55 506.5,63.5" fill="none" stroke-width="1.1"/>
</g>
<circle cx="505.5" cy="63.6" r="2.2" fill="#000"/>
<circle cx="511.8" cy="64.6" r="2.0" fill="#000"/>
</g>
<line x1="120" y1="327.5" x2="179.6" y2="315.4" stroke="#000" stroke-width="1.9"/>
<line x1="133.2" y1="384.4" x2="190.6" y2="372.3" stroke="#000" stroke-width="1.9"/>
<line x1="134.6" y1="355.4" x2="129.7" y2="334.2" stroke="#000" stroke-width="1.4"/>
<polygon points="128.2,327.6 133.5,334.4 126.4,336.0" fill="#000"/>
<line x1="134.6" y1="355.4" x2="137.8" y2="374.5" stroke="#000" stroke-width="1.4"/>
<polygon points="138.9,381.2 134.1,374.1 141.2,372.9" fill="#000"/>
<circle cx="134.6" cy="355.4" r="2.6" fill="#000"/>
<line x1="87.7" y1="336.4" x2="134.6" y2="355.4" stroke="#000" stroke-width="1.7"/>
<g stroke="#777" stroke-width="0.9" fill="none">
<line x1="175.6" y1="355" x2="175.6" y2="423"/>
<line x1="181.9" y1="355" x2="181.9" y2="423"/>
<line x1="157.5" y1="414" x2="281" y2="414" stroke="#555"/>
</g>
<polygon points="175.2,414 171,412.6 171,415.4" fill="#555"/>
<polygon points="182.3,414 186.5,412.6 186.5,415.4" fill="#555"/>
<line x1="64.0" y1="64.5" x2="131.5" y2="108.4" stroke="#000" stroke-width="1.15"/>
<polygon points="137.5,112.3 128.7,110.8 132.5,104.9" fill="#000"/>
<line x1="161.5" y1="30.0" x2="186.1" y2="153.9" stroke="#000" stroke-width="1.15"/>
<polygon points="187.5,161.0 182.5,153.6 189.3,152.3" fill="#000"/>
<line x1="311.0" y1="28.3" x2="254.3" y2="136.1" stroke="#000" stroke-width="1.15"/>
<polygon points="251.0,142.5 251.7,133.6 257.9,136.9" fill="#000"/>
<line x1="336.3" y1="279.7" x2="299.8" y2="183.2" stroke="#000" stroke-width="1.15"/>
<polygon points="297.3,176.5 303.5,182.9 296.9,185.4" fill="#000"/>
<line x1="47.3" y1="282.8" x2="160.8" y2="242.8" stroke="#000" stroke-width="1.15"/>
<polygon points="167.6,240.4 161.0,246.4 158.7,239.8" fill="#000"/>
<line x1="335.3" y1="354.2" x2="217.1" y2="227.9" stroke="#000" stroke-width="1.15"/>
<polygon points="212.2,222.6 220.4,226.2 215.2,231.0" fill="#000"/>
<line x1="275.4" y1="379.6" x2="220.9" y2="332.2" stroke="#000" stroke-width="1.15"/>
<polygon points="215.5,327.5 224.0,330.2 219.4,335.5" fill="#000"/>
<line x1="406.5" y1="261.0" x2="463.6" y2="164.9" stroke="#000" stroke-width="1.15"/>
<polygon points="467.3,158.7 466.1,167.5 460.1,164.0" fill="#000"/>
<line x1="464.3" y1="347.8" x2="563.1" y2="271.4" stroke="#000" stroke-width="1.15"/>
<polygon points="568.8,267.0 564.5,274.8 560.2,269.2" fill="#000"/>
<line x1="637.5" y1="52.0" x2="578.8" y2="191.2" stroke="#000" stroke-width="1.15"/>
<polygon points="576.0,197.8 576.0,188.9 582.4,191.6" fill="#000"/>
</g>
<text x="59.5" y="454.2" font-family="Liberation Serif,serif" font-weight="bold" font-size="18.7px">а)</text>
<text x="431.5" y="454.2" font-family="Liberation Serif,serif" font-weight="bold" font-size="18.7px">б)</text>
<g font-family="Liberation Serif,serif" font-size="13.6px" text-anchor="middle" fill="#000">
<text x="76.5" y="312.6">Робоча ділянка</text>
<text x="77" y="327.8">диска</text>
<text x="76" y="343">45..60 мм</text>
</g>
<path d="M34.5,314.8 H70.5 M76,314.8 H118.5" stroke="#444" stroke-width="1.1" stroke-dasharray="1.1 0.9" fill="none"/>
<text x="189.8" y="408.8" font-family="Liberation Sans,sans-serif" font-weight="bold" font-size="23.4px" textLength="85.4" lengthAdjust="spacingAndGlyphs">3..5 мм</text>
<text class="lab" x="57.6" y="56.6">4</text>
<text class="lab" x="169.8" y="20.6">5</text>
<text class="lab" x="319.3" y="21">6</text>
<text class="lab" x="54.4" y="275.9">8</text>
<text class="labs" x="356.4" y="284.9">7</text>
<text class="labs" x="356.3" y="360.3">9</text>
<text class="labs" x="296.6" y="371.6">1</text>
<text class="labs" x="406.6" y="260.9">3</text>
<text class="labs" x="456.4" y="344.8">1</text>
</svg>
</body>
</html>
